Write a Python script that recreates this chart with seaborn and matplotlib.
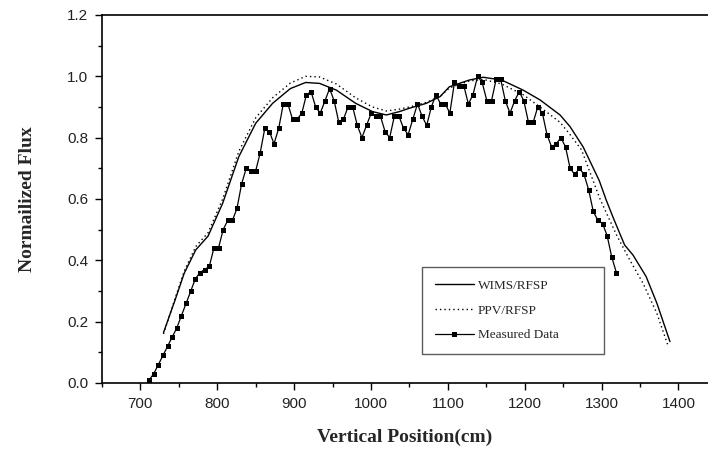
import numpy as np
import pandas as pd
import matplotlib
matplotlib.use("Agg")
import matplotlib.pyplot as plt
from matplotlib.ticker import MultipleLocator
import seaborn as sns

# ---------------- data ----------------
wims_x = [730, 745, 757, 772, 788, 807, 828, 850, 872, 895, 915, 933, 955, 980,
          1002, 1020, 1037, 1050, 1072, 1090, 1102, 1128, 1146, 1170, 1198, 1220,
          1246, 1259, 1276, 1297, 1306, 1315, 1330, 1341, 1358, 1372, 1389]
wims_y = [0.164, 0.27, 0.358, 0.434, 0.479, 0.586, 0.738, 0.847, 0.912, 0.96, 0.98,
          0.977, 0.955, 0.912, 0.885, 0.874, 0.885, 0.896, 0.912, 0.934, 0.966, 0.988,
          0.997, 0.988, 0.955, 0.923, 0.874, 0.836, 0.77, 0.66, 0.597, 0.54, 0.45,
          0.417, 0.347, 0.26, 0.135]

ppv_x = [730, 745, 757, 772, 788, 807, 828, 850, 872, 895, 915, 933, 955, 980,
         1002, 1020, 1037, 1050, 1072, 1090, 1102, 1128, 1146, 1170, 1198, 1220,
         1246, 1259, 1274, 1298, 1320, 1337, 1354, 1372, 1387]
ppv_y = [0.16, 0.275, 0.365, 0.445, 0.49, 0.6, 0.755, 0.865, 0.93, 0.978, 1.0,
         0.998, 0.975, 0.93, 0.9, 0.887, 0.893, 0.9, 0.915, 0.935, 0.962, 0.985,
         0.99, 0.975, 0.94, 0.9, 0.85, 0.81, 0.76, 0.6, 0.48, 0.40, 0.325, 0.227, 0.118]

meas_x = [711.3, 717.3, 723.3, 729.4, 735.4, 741.4, 747.4, 753.4, 759.5, 765.5,
          771.5, 777.5, 783.5, 789.6, 795.6, 801.6, 807.6, 813.6, 819.7, 825.7,
          831.7, 837.7, 843.7, 849.8, 855.8, 861.8, 867.8, 873.8, 879.9, 885.9,
          891.9, 897.9, 903.9, 910.0, 916.0, 922.0, 928.0, 934.0, 940.1, 946.1,
          952.1, 958.1, 964.1, 970.2, 976.2, 982.2, 988.2, 994.2, 1000.3, 1006.3,
          1012.3, 1018.3, 1024.3, 1030.4, 1036.4, 1042.4, 1048.4, 1054.4, 1060.5, 1066.5,
          1072.5, 1078.5, 1084.5, 1090.6, 1096.6, 1102.6, 1108.6, 1114.6, 1120.7, 1126.7,
          1132.7, 1138.7, 1144.7, 1150.8, 1156.8, 1162.8, 1168.8, 1174.8, 1180.9, 1186.9,
          1192.9, 1198.9, 1204.9, 1211.0, 1217.0, 1223.0, 1229.0, 1235.0, 1241.1, 1247.1,
          1253.1, 1259.1, 1265.1, 1271.2, 1277.2, 1283.2, 1289.2, 1295.2, 1301.3, 1307.3,
          1313.3, 1319.3]
meas_y = [0.01, 0.03, 0.06, 0.09, 0.12, 0.15, 0.18, 0.22, 0.26, 0.30,
          0.34, 0.36, 0.37, 0.38, 0.44, 0.44, 0.50, 0.53, 0.53, 0.57,
          0.65, 0.70, 0.69, 0.69, 0.75, 0.83, 0.82, 0.78, 0.83, 0.91,
          0.91, 0.86, 0.86, 0.88, 0.94, 0.95, 0.90, 0.88, 0.92, 0.96,
          0.92, 0.85, 0.86, 0.90, 0.90, 0.84, 0.80, 0.84, 0.88, 0.87,
          0.87, 0.82, 0.80, 0.87, 0.87, 0.83, 0.81, 0.86, 0.91, 0.87,
          0.84, 0.90, 0.94, 0.91, 0.91, 0.88, 0.98, 0.97, 0.97, 0.91,
          0.94, 1.00, 0.98, 0.92, 0.92, 0.99, 0.99, 0.92, 0.88, 0.92,
          0.95, 0.92, 0.85, 0.85, 0.90, 0.88, 0.81, 0.77, 0.78, 0.80,
          0.77, 0.70, 0.68, 0.70, 0.68, 0.63, 0.56, 0.53, 0.52, 0.48,
          0.41, 0.36]

labels = ["WIMS/RFSP", "PPV/RFSP", "Measured Data"]
x_label = "Vertical Position(cm)"
y_label = "Normailized Flux"

# ---------------- plot ----------------
sns.set_theme(style="ticks")
plt.rcParams["font.family"] = ["Liberation Sans", "DejaVu Sans"]

fig = plt.figure(figsize=(7.08, 4.51), dpi=100)
ax = fig.add_axes([102 / 708, (451 - 383) / 451, 606 / 708, 368 / 451])

df_w = pd.DataFrame({"x": wims_x, "y": wims_y})
df_p = pd.DataFrame({"x": ppv_x, "y": ppv_y})
df_m = pd.DataFrame({"x": meas_x, "y": meas_y})

sns.lineplot(data=df_w, x="x", y="y", ax=ax, color="black", linewidth=1.0,
             sort=False, estimator=None, label=labels[0])
sns.lineplot(data=df_p, x="x", y="y", ax=ax, color="black", linewidth=1.0,
             sort=False, estimator=None, label=labels[1])
ax.lines[-1].set_dashes([1, 2.2])
sns.lineplot(data=df_m, x="x", y="y", ax=ax, color="black", linewidth=0.9,
             marker="s", markersize=3.6, markeredgewidth=0, sort=False,
             estimator=None, label=labels[2])

ax.set_xlim(650, 1438.5)
ax.set_ylim(0, 1.2)
ax.xaxis.set_major_locator(MultipleLocator(100))
ax.xaxis.set_minor_locator(MultipleLocator(50))
ax.yaxis.set_major_locator(MultipleLocator(0.2))
ax.yaxis.set_minor_locator(MultipleLocator(0.1))
ax.tick_params(axis="both", which="major", direction="out", length=5, width=1,
               labelsize=11, color="black", labelcolor="#222222", pad=5)
ax.tick_params(axis="both", which="minor", direction="out", length=3, width=1,
               color="black")
ax.yaxis.set_major_formatter(matplotlib.ticker.FormatStrFormatter("%.1f"))

for s in ["left", "bottom", "top"]:
    ax.spines[s].set_visible(True)
    ax.spines[s].set_color("black")
    ax.spines[s].set_linewidth(1.2)
ax.spines["right"].set_visible(False)

ax.set_xlabel(x_label, fontfamily="Liberation Serif", fontweight="bold",
              fontsize=14, labelpad=13)
ax.set_ylabel(y_label, fontfamily="Liberation Serif", fontweight="bold",
              fontsize=14, labelpad=22)

leg = ax.legend(loc="upper left", bbox_to_anchor=(0.528, 0.0707, 0.300, 0.2443),
                mode="expand",
                prop={"family": "Liberation Serif", "size": 9.5},
                frameon=True, fancybox=False, edgecolor="#333333",
                handlelength=3.0, handletextpad=0.3, labelspacing=0.95,
                borderpad=0.95, borderaxespad=0)
leg.get_frame().set_linewidth(1.0)

fig.savefig("out.png", dpi=100)
